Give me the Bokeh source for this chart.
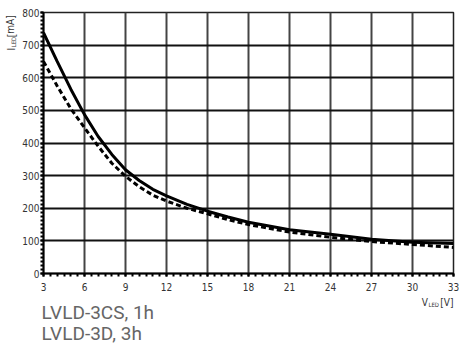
from bokeh.plotting import figure
from bokeh.models import Range1d, FixedTicker, Label
from bokeh.layouts import column, row
from bokeh.embed import file_html
from bokeh.resources import INLINE

# ---- data ----
v_led = [3, 4, 5, 6, 7, 8, 9, 10, 11, 12, 13.5, 15, 16.5, 18, 21, 24, 27, 30, 33]
i_lvld_3cs_1h = [738, 650, 565, 487, 420, 365, 318, 285, 258, 238, 212, 191, 173, 157, 134, 120, 105, 96, 92]
i_lvld_3d_3h = [650, 575, 505, 447, 390, 338, 298, 266, 240, 222, 200, 183, 165, 150, 127, 111, 98, 89, 80]
x_ticks = [3, 6, 9, 12, 15, 18, 21, 24, 27, 30, 33]
y_ticks = [0, 100, 200, 300, 400, 500, 600, 700, 800]
legend_lines = ["LVLD-3CS, 1h", "LVLD-3D, 3h"]

FONT = "'Liberation Sans Narrow', 'DejaVu Sans Condensed', sans-serif"
TXT = "#333333"

# ---- main chart ----
LEFT_W = 18
MAIN_W = 459 - LEFT_W
MAIN_H = 296
p = figure(width=MAIN_W, height=MAIN_H, output_backend="svg", toolbar_location=None,
           x_range=Range1d(3, 33), y_range=Range1d(0, 800),
           min_border_left=43 - LEFT_W, min_border_right=6, min_border_top=12,
           min_border_bottom=MAIN_H - 12 - 261)
p.background_fill_color = "white"
p.border_fill_color = "white"
p.outline_line_color = "#222222"
p.outline_line_width = 1.5

x_minor = [3 + k * 0.5 for k in range(61)]
y_minor = [k * 12.5 for k in range(65)]
p.xaxis.ticker = FixedTicker(ticks=x_ticks, minor_ticks=x_minor)
p.yaxis.ticker = FixedTicker(ticks=y_ticks, minor_ticks=y_minor)

for ax in (p.xaxis, p.yaxis):
    ax.axis_line_color = "black"
    ax.axis_line_width = 2
    ax.major_tick_line_color = "black"
    ax.major_tick_line_width = 2
    ax.major_tick_in = 0
    ax.major_tick_out = 3
    ax.minor_tick_line_color = "black"
    ax.minor_tick_line_width = 2
    ax.minor_tick_in = 0
    ax.minor_tick_out = 3
    ax.major_label_text_font = FONT
    ax.major_label_text_font_size = "10px"
    ax.major_label_text_color = TXT
p.xaxis.major_label_standoff = 6
p.yaxis.major_label_standoff = 1

p.xgrid.ticker = FixedTicker(ticks=x_ticks)
p.ygrid.ticker = FixedTicker(ticks=y_ticks)
p.xgrid.grid_line_color = "#444444"
p.xgrid.grid_line_width = 2
p.ygrid.grid_line_color = "#111111"
p.ygrid.grid_line_width = 2

p.line(v_led, i_lvld_3cs_1h, line_color="black", line_width=3)
p.line(v_led, i_lvld_3d_3h, line_color="black", line_width=3, line_dash="5 3")


def blank(w, h):
    f = figure(width=w, height=h, output_backend="svg", toolbar_location=None,
               x_range=Range1d(0, w), y_range=Range1d(0, h), min_border=0)
    f.axis.visible = False
    f.grid.visible = False
    f.outline_line_color = None
    f.background_fill_color = "white"
    f.border_fill_color = "white"
    return f


# ---- y axis title strip: I_LED [mA] ----
ly = blank(LEFT_W, MAIN_H)
ROT = 1.5708
ly.add_layout(Label(x=10.5, y=MAIN_H - 43, text="I", angle=ROT, text_font=FONT,
                    text_font_size="10px", text_color=TXT, text_baseline="alphabetic"))
ly.add_layout(Label(x=13, y=MAIN_H - 39.5, text="LED", angle=ROT, text_font=FONT,
                    text_font_size="6px", text_color=TXT, text_baseline="alphabetic"))
ly.add_layout(Label(x=10.5, y=MAIN_H - 28, text="[mA]", angle=ROT, text_font=FONT,
                    text_font_size="10px", text_color=TXT, text_baseline="alphabetic"))

# ---- bottom strip: x axis title + captions ----
BOT_W, BOT_H = 459, 346 - MAIN_H
bt = blank(BOT_W, BOT_H)


def by(py):
    return 346 - py


bt.add_layout(Label(x=453, y=by(301.5), text="[V]", text_font=FONT, text_font_size="10px",
                    text_color=TXT, text_align="right", text_baseline="alphabetic"))
bt.add_layout(Label(x=438.5, y=by(303.5), text="LED", text_font=FONT, text_font_size="6px",
                    text_color=TXT, text_align="right", text_baseline="alphabetic"))
bt.add_layout(Label(x=427.5, y=by(301.5), text="V", text_font=FONT, text_font_size="10px",
                    text_color=TXT, text_align="right", text_baseline="alphabetic"))
for k, t in enumerate(legend_lines):
    bt.add_layout(Label(x=41, y=by(311.5 + 21.5 * k), text=t, text_font="Roboto",
                        text_font_size="19px", text_color="#666666", text_baseline="alphabetic"))

layout = column(row(ly, p, spacing=0), bt, spacing=0)
open("out.html", "w").write(file_html(layout, INLINE))
